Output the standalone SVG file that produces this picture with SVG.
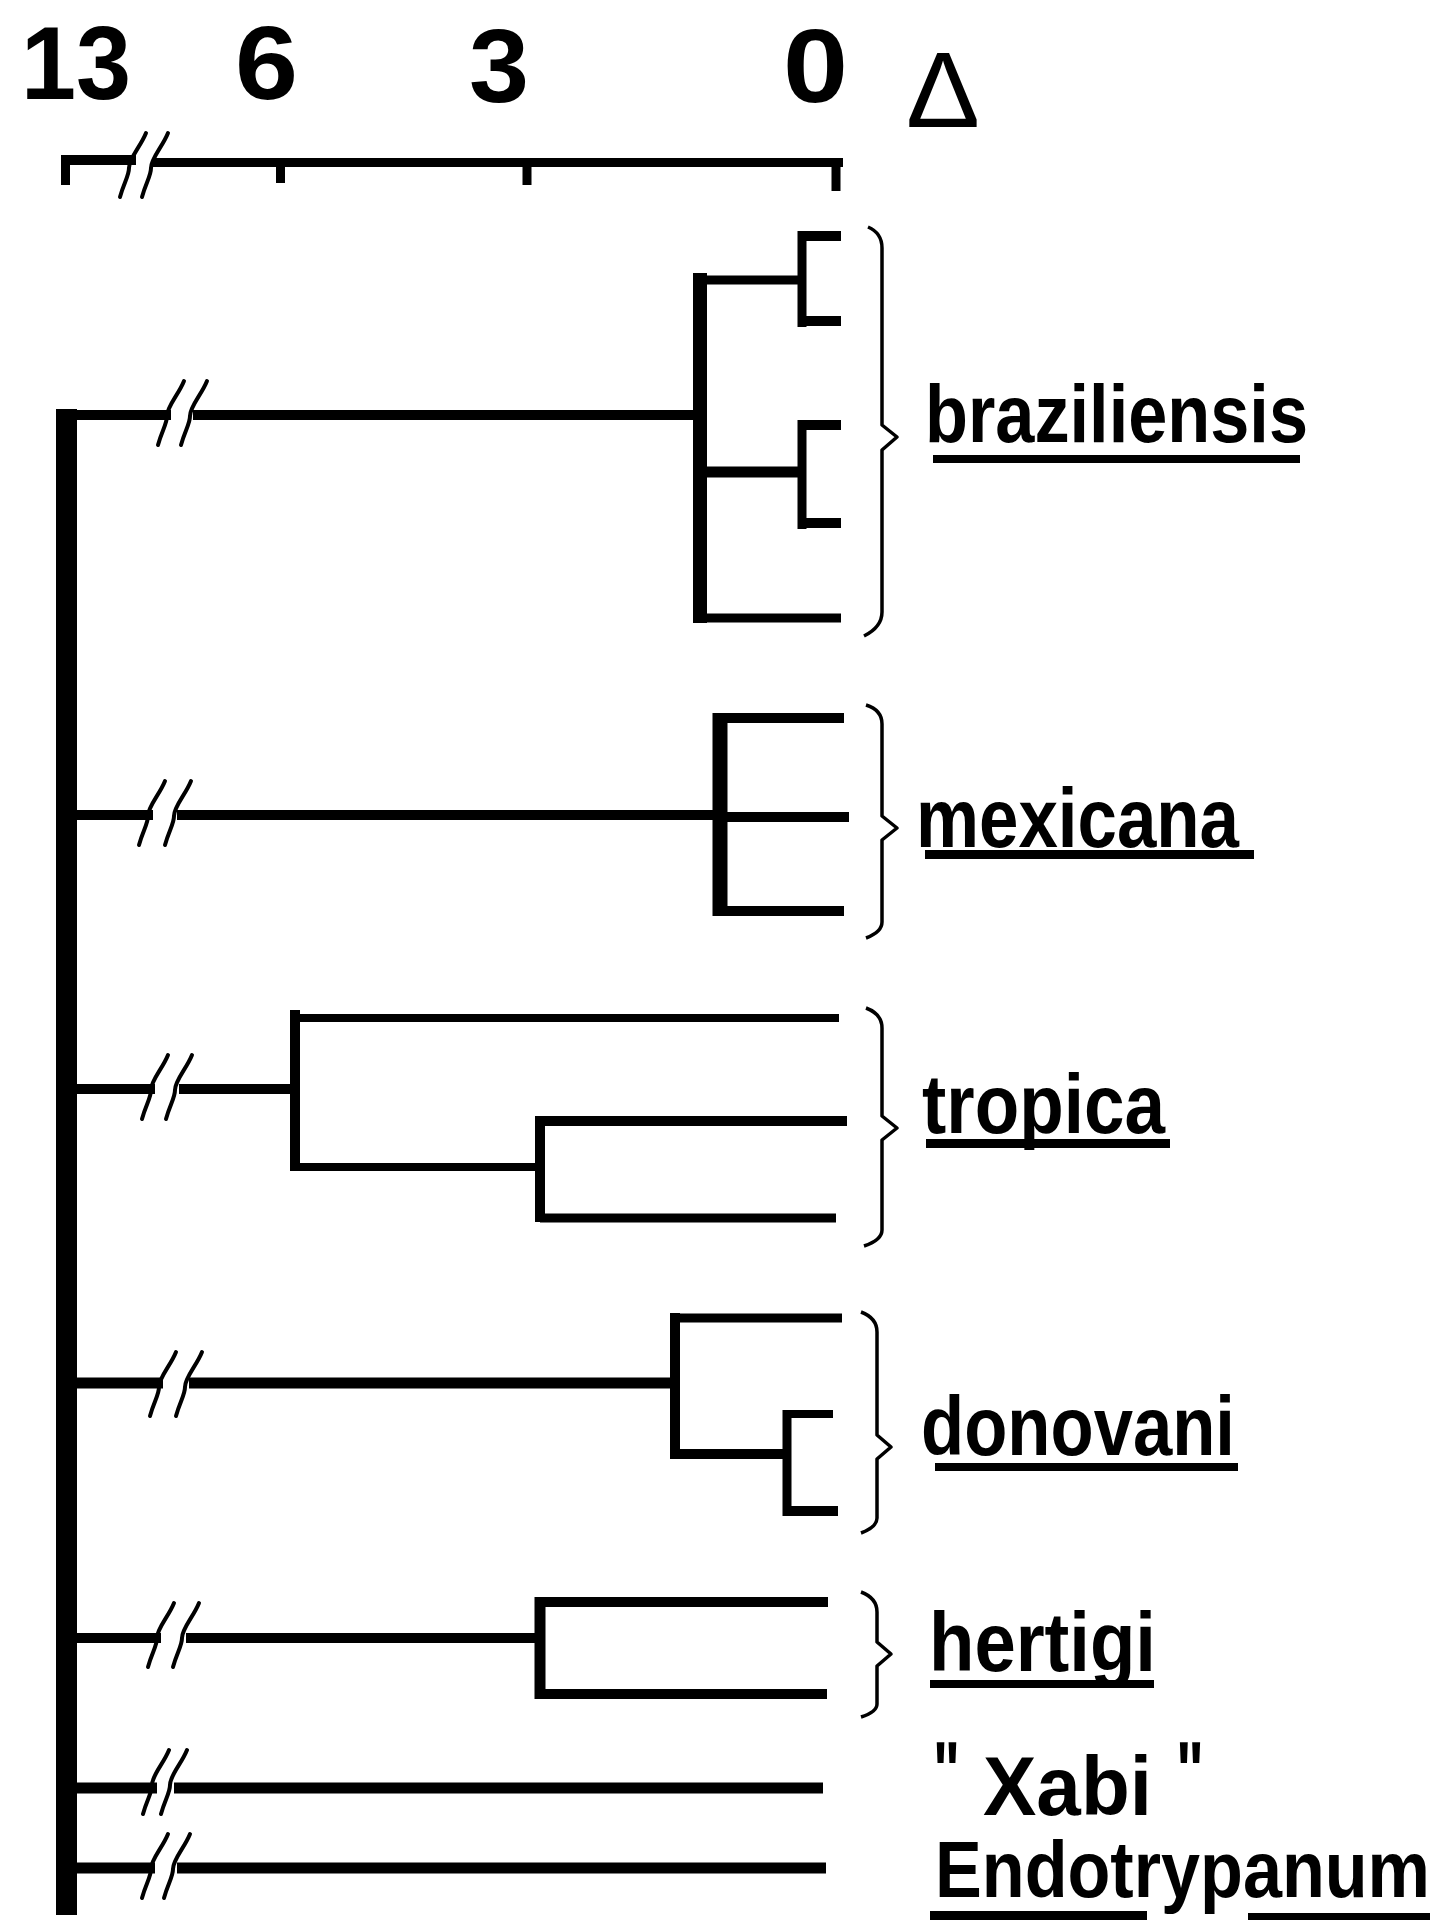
<svg xmlns="http://www.w3.org/2000/svg" xmlns:xlink="http://www.w3.org/1999/xlink" width="1441" height="1920" viewBox="0 0 1441 1920">
<defs>
<style>
.ln{stroke:#000;fill:none;stroke-linecap:butt}
.sl{stroke:#000;fill:none;stroke-width:4;stroke-linecap:round}
.brace{stroke:#000;fill:none;stroke-width:3.5;stroke-linejoin:round}
.lab{font-family:"Liberation Sans",Arial,sans-serif;font-weight:bold;fill:#000}
.num{font-family:"Liberation Sans",Arial,sans-serif;font-weight:bold;fill:#000;font-size:104px}
.ul{fill:#000}
</style>
<path id="slash" d="M-13,31 C-9,16 -4,10 -4,2 C-4,-8 8,-20 13,-33"/>
</defs>
<rect width="1441" height="1920" fill="#fff"/>

<g id="scale">
<text class="num" x="21" y="99" textLength="110" lengthAdjust="spacingAndGlyphs">13</text>
<text class="num" x="235" y="99" textLength="63" lengthAdjust="spacingAndGlyphs">6</text>
<text class="num" x="469" y="102" textLength="60" lengthAdjust="spacingAndGlyphs">3</text>
<text class="num" x="783" y="102" textLength="65" lengthAdjust="spacingAndGlyphs">0</text>
<text x="906" y="127" font-family="Liberation Sans, Arial, sans-serif" font-size="108" textLength="74" lengthAdjust="spacingAndGlyphs">Δ</text>
<path class="ln" stroke-width="10" d="M61,160 H136"/>
<path class="ln" stroke-width="9" d="M152,162.5 H843"/>
<path class="ln" stroke-width="9" d="M65.5,155 V185 M280.5,160 V183 M527,160 V185 M836,160 V191"/>
<use href="#slash" class="sl" x="133" y="166"/>
<use href="#slash" class="sl" x="155" y="166"/>
</g>

<g id="connectors">
<rect id="trunk" x="56" y="409" width="21" height="1506" fill="#000"/>
<!-- braziliensis -->
<path class="ln" stroke-width="10" d="M66,415 H171 M193,415 H701"/>
<use href="#slash" class="sl" x="171" y="414"/>
<use href="#slash" class="sl" x="194" y="414"/>
<path class="ln" stroke-width="14" d="M700,273 V623"/>
<path class="ln" stroke-width="9" d="M700,280 H806"/>
<path class="ln" stroke-width="11" d="M700,472 H806"/>
<path class="ln" stroke-width="9" d="M700,618 H841"/>
<path class="ln" stroke-width="9" d="M802,231 V327 M802,420 V529"/>
<path class="ln" stroke-width="10" d="M798,236 H841 M798,321 H841 M798,425 H841 M798,523 H841"/>
<!-- mexicana -->
<path class="ln" stroke-width="10" d="M66,815 H153 M177,815 H721"/>
<use href="#slash" class="sl" x="152" y="814"/>
<use href="#slash" class="sl" x="178" y="814"/>
<path class="ln" stroke-width="15" d="M720,713 V916"/>
<path class="ln" stroke-width="10" d="M720,718 H844 M720,817 H849 M720,911 H844"/>
<!-- tropica -->
<path class="ln" stroke-width="10" d="M66,1089 H155 M179,1089 H296"/>
<use href="#slash" class="sl" x="155" y="1088"/>
<use href="#slash" class="sl" x="179" y="1088"/>
<path class="ln" stroke-width="10" d="M295,1010 V1171"/>
<path class="ln" stroke-width="8" d="M295,1018 H839 M295,1167 H541"/>
<path class="ln" stroke-width="10" d="M540,1116 V1222"/>
<path class="ln" stroke-width="10" d="M540,1121 H847"/>
<path class="ln" stroke-width="9" d="M540,1218 H836"/>
<!-- donovani -->
<path class="ln" stroke-width="11" d="M66,1383 H163 M189,1383 H676"/>
<use href="#slash" class="sl" x="163" y="1385"/>
<use href="#slash" class="sl" x="189" y="1385"/>
<path class="ln" stroke-width="10" d="M675,1313 V1459"/>
<path class="ln" stroke-width="9" d="M675,1318 H842"/>
<path class="ln" stroke-width="10" d="M675,1454 H788"/>
<path class="ln" stroke-width="9" d="M787,1410 V1516"/>
<path class="ln" stroke-width="8" d="M787,1414 H833"/>
<path class="ln" stroke-width="10" d="M787,1511 H838"/>
<!-- hertigi -->
<path class="ln" stroke-width="10" d="M66,1638 H161 M186,1638 H541"/>
<use href="#slash" class="sl" x="161" y="1636"/>
<use href="#slash" class="sl" x="186" y="1636"/>
<path class="ln" stroke-width="11" d="M540,1597 V1699"/>
<path class="ln" stroke-width="10" d="M540,1602 H828 M540,1694 H827"/>
<!-- Xabi -->
<path class="ln" stroke-width="11" d="M66,1788 H157 M174,1788 H823"/>
<use href="#slash" class="sl" x="156" y="1783"/>
<use href="#slash" class="sl" x="174" y="1783"/>
<!-- Endotrypanum -->
<path class="ln" stroke-width="11" d="M66,1868 H155 M177,1868 H826"/>
<use href="#slash" class="sl" x="155" y="1867"/>
<use href="#slash" class="sl" x="177" y="1867"/>
</g>

<g id="node-braziliensis">
<path class="brace" d="M868,227 Q882,233 882,248 V425 L897,437 L882,450 V612 Q882,627 864,636"/>
<text class="lab" x="925" y="442" font-size="82" textLength="383" lengthAdjust="spacingAndGlyphs">braziliensis</text>
<rect class="ul" x="933" y="455" width="367" height="8"/>
</g>
<g id="node-mexicana">
<path class="brace" d="M866,705 Q882,710 882,724 V816 L897,828 L882,840 V922 Q882,932 866,938"/>
<text class="lab" x="916" y="847" font-size="84" textLength="323" lengthAdjust="spacingAndGlyphs">mexicana</text>
<rect class="ul" x="925" y="850" width="329" height="9"/>
</g>
<g id="node-tropica">
<path class="brace" d="M866,1008 Q882,1014 882,1028 V1116 L897,1128 L882,1140 V1230 Q882,1240 864,1246"/>
<text class="lab" x="922" y="1133" font-size="84" textLength="243" lengthAdjust="spacingAndGlyphs">tropica</text>
<rect class="ul" x="926" y="1139" width="244" height="9"/>
</g>
<g id="node-donovani">
<path class="brace" d="M861,1312 Q877,1318 877,1332 V1435 L891,1447 L877,1459 V1518 Q877,1527 861,1533"/>
<text class="lab" x="921" y="1455" font-size="84" textLength="314" lengthAdjust="spacingAndGlyphs">donovani</text>
<rect class="ul" x="935" y="1463" width="303" height="8"/>
</g>
<g id="node-hertigi">
<path class="brace" d="M861,1592 Q877,1598 877,1612 V1642 L891,1654 L877,1666 V1704 Q877,1712 861,1717"/>
<text class="lab" x="929" y="1671" font-size="84" textLength="227" lengthAdjust="spacingAndGlyphs">hertigi</text>
<rect class="ul" x="930" y="1680" width="224" height="8"/>
</g>
<g id="node-xabi">
<text class="lab" font-size="84"><tspan x="933" y="1800" textLength="27" lengthAdjust="spacingAndGlyphs">"</tspan><tspan x="983" y="1815" textLength="169" lengthAdjust="spacingAndGlyphs">Xabi</tspan><tspan x="1176" y="1800" textLength="28" lengthAdjust="spacingAndGlyphs">"</tspan></text>
</g>
<g id="node-endotrypanum">
<text class="lab" x="935" y="1897" font-size="80" textLength="495" lengthAdjust="spacingAndGlyphs">Endotrypanum</text>
<rect class="ul" x="930" y="1911" width="217" height="9"/>
<rect class="ul" x="1248" y="1913" width="182" height="7"/>
</g>
</svg>
